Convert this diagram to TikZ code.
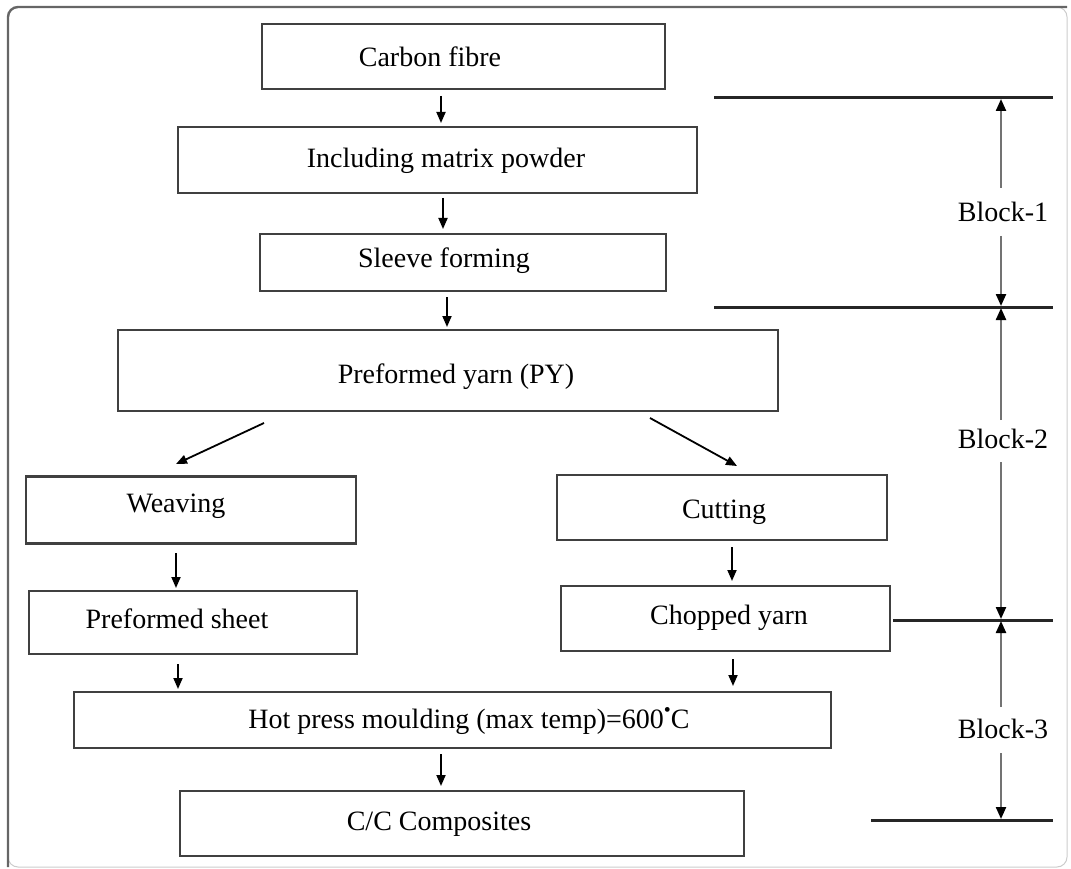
\documentclass[tikz,border=0pt]{standalone}
\usepackage{fontspec}
\setmainfont{Liberation Serif}
\usetikzlibrary{arrows.meta}
\begin{document}
\begin{tikzpicture}[x=1pt,y=-1pt,
  box/.style={draw=black!75,line width=2.3pt,inner sep=0pt},
  lbl/.style={anchor=base,inner sep=0pt,text=black,font=\fontsize{28}{32}\selectfont},
  flow/.style={line width=1.8pt,-{Triangle[width=9pt,length=11pt]}},
  level/.style={line width=3pt,black!85},
  span/.style={line width=2.2pt,black!55,-{Triangle[width=10pt,length=12pt,color=black]}}]
\useasboundingbox (0,0) rectangle (1071,869);
% frame
\draw[black!20,line width=1pt,rounded corners=10pt] (8,7) rectangle (1067,867);
\draw[black!60,line width=2.4pt,rounded corners=10pt] (8,867) -- (8,7) -- (1067,7);

% process boxes
\node[box,minimum width=403pt,minimum height=65pt] (cf) at (463.5,56.5) {};
\node[box,minimum width=519pt,minimum height=66pt] (imp) at (437.5,160) {};
\node[box,minimum width=406pt,minimum height=57pt] (sf) at (463,262.5) {};
\node[box,minimum width=660pt,minimum height=81pt] (py) at (448,370.5) {};
\node[box,minimum width=330pt,minimum height=67pt] (wv) at (191,510) {};
\node[box,minimum width=330pt,minimum height=65pt] (ct) at (722,507.5) {};
\node[box,minimum width=328pt,minimum height=63pt] (ps) at (193,622.5) {};
\node[box,minimum width=329pt,minimum height=65pt] (cy) at (725.5,618.5) {};
\node[box,minimum width=757pt,minimum height=56pt] (hp) at (452.5,720) {};
\node[box,minimum width=564pt,minimum height=65pt] (cc) at (462,823.5) {};

% box texts
\node[lbl] (tcf) at (430,67) {Carbon fibre};
\node[lbl] (timp) at (446,168) {Including matrix powder};
\node[lbl] (tsf) at (444,268) {Sleeve forming};
\node[lbl] (tpy) at (456,383) {Preformed yarn (PY)};
\node[lbl] (twv) at (176,512) {Weaving};
\node[lbl] (tct) at (724,518) {Cutting};
\node[lbl] (tps) at (177,628) {Preformed sheet};
\node[lbl] (tcy) at (729,624) {Chopped yarn};
\node[lbl] (thp) at (469,728) {Hot press moulding (max temp)=600\raisebox{0.42em}{\fontsize{20}{20}\selectfont •}C};
\node[lbl] (tcc) at (439,830) {C/C Composites};

% connector ends
\coordinate (a1) at (441,96);   \coordinate (b1) at (441,123);
\coordinate (a2) at (443,198);  \coordinate (b2) at (443,229);
\coordinate (a3) at (447,297);  \coordinate (b3) at (447,327);
\coordinate (a4) at (264,423);  \coordinate (b4) at (176,464);
\coordinate (a5) at (650,418);  \coordinate (b5) at (737,466);
\coordinate (a6) at (176,553);  \coordinate (b6) at (176,588);
\coordinate (a7) at (732,547);  \coordinate (b7) at (732,581);
\coordinate (a8) at (178,664);  \coordinate (b8) at (178,689);
\coordinate (a9) at (733,659);  \coordinate (b9) at (733,686);
\coordinate (a10) at (441,754); \coordinate (b10) at (441,786);

\draw[flow] (a1) -- (b1);
\draw[flow] (a2) -- (b2);
\draw[flow] (a3) -- (b3);
\draw[flow] (a4) -- (b4);
\draw[flow] (a5) -- (b5);
\draw[flow] (a6) -- (b6);
\draw[flow] (a7) -- (b7);
\draw[flow] (a8) -- (b8);
\draw[flow] (a9) -- (b9);
\draw[flow] (a10) -- (b10);

% block boundaries
\coordinate (l1a) at (714,98);  \coordinate (l1b) at (1053,98);
\coordinate (l2a) at (714,307); \coordinate (l2b) at (1053,307);
\coordinate (l3a) at (893,620); \coordinate (l3b) at (1053,620);
\coordinate (l4a) at (871,820); \coordinate (l4b) at (1053,820);
\draw[level] (l1a) -- (l1b);
\draw[level] (l2a) -- (l2b);
\draw[level] (l3a) -- (l3b);
\draw[level] (l4a) -- (l4b);

% block labels and their extents
\node[lbl] (bk1) at (1003,222) {Block-1};
\node[lbl] (bk2) at (1003,448) {Block-2};
\node[lbl] (bk3) at (1003,738) {Block-3};
\coordinate (t1) at (1001,188); \coordinate (e1) at (1001,99);
\coordinate (u1) at (1001,236); \coordinate (f1) at (1001,306);
\coordinate (t2) at (1001,420); \coordinate (e2) at (1001,308);
\coordinate (u2) at (1001,462); \coordinate (f2) at (1001,619);
\coordinate (t3) at (1001,707); \coordinate (e3) at (1001,621);
\coordinate (u3) at (1001,753); \coordinate (f3) at (1001,819);
\draw[span] (t1) -- (e1);
\draw[span] (u1) -- (f1);
\draw[span] (t2) -- (e2);
\draw[span] (u2) -- (f2);
\draw[span] (t3) -- (e3);
\draw[span] (u3) -- (f3);
\end{tikzpicture}
\end{document}
